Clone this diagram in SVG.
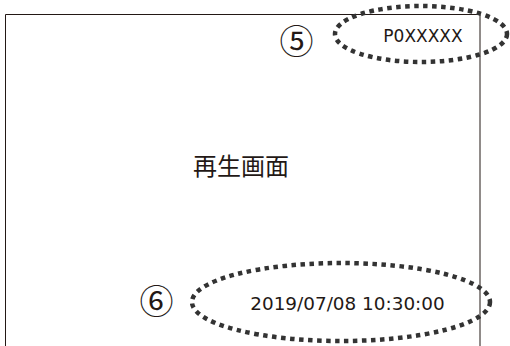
<svg xmlns="http://www.w3.org/2000/svg" width="510" height="346" viewBox="0 0 510 346">
<style>
.t{font-family:"Noto Sans CJK JP","Noto Sans",sans-serif;fill:#231815}
.l{font-family:"DejaVu Sans","Noto Sans CJK JP",sans-serif;fill:#231815}
.dot{fill:none;stroke:#333;stroke-width:4.5;stroke-dasharray:4.5 4.5}
</style>
<rect width="510" height="346" fill="#fff"/>
<g id="screen">
<path d="M5.5 346V14.5H480V346" fill="none" stroke="#231815" stroke-width="1"/>
<text class="t" x="241" y="175" font-size="24" text-anchor="middle">再生画面</text>
</g>
<g id="label5">
<ellipse class="dot" cx="421" cy="34" rx="86" ry="28"/>
<text class="l" x="423" y="42" font-size="17" text-anchor="middle">P0XXXXX</text>
<text class="t" x="296.5" y="54" font-size="34" text-anchor="middle">⑤</text>
</g>
<g id="label6">
<ellipse class="dot" cx="341" cy="302" rx="149" ry="39"/>
<text class="l" x="347.5" y="310" font-size="18.4" text-anchor="middle">2019/07/08 10:30:00</text>
<text class="t" x="156.5" y="314" font-size="34" text-anchor="middle">⑥</text>
</g>
</svg>
